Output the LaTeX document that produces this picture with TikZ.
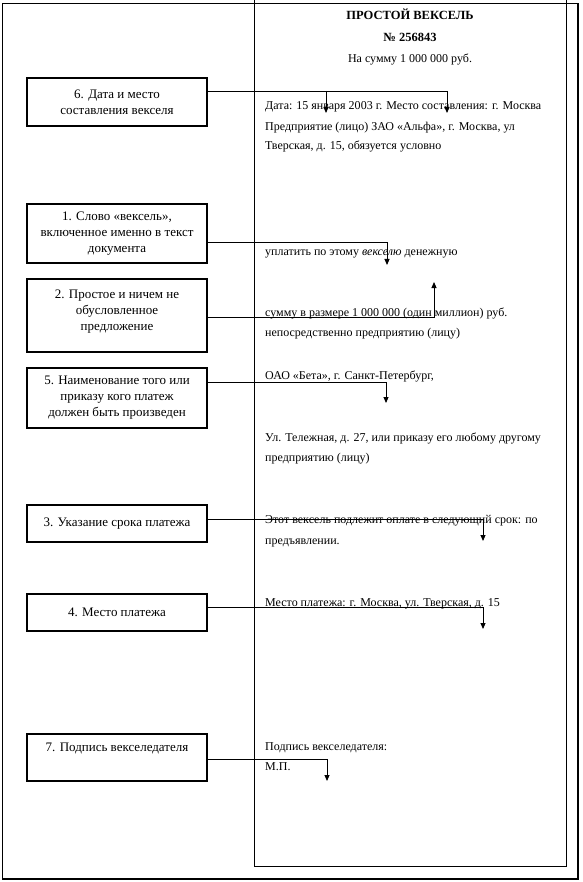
\documentclass[tikz,border=0pt]{standalone}
\usepackage{fontspec}
\setmainfont{Liberation Serif}
\usetikzlibrary{arrows.meta,positioning,calc}

\begin{document}
\begin{tikzpicture}[x=1pt, y=-1pt, >={Triangle[length=6pt,width=5pt]},
    part/.style={draw, line width=2pt, align=center, minimum width=180pt, inner sep=2pt, font=\fontsize{13}{16}\selectfont},
    txt/.style={anchor=base west, inner sep=0pt, font=\fontsize{12}{14}\selectfont},
    conn/.style={->, line width=0.9pt}]
    \useasboundingbox (0,0) rectangle (582,882);

    % Frames
    \draw[line width=1.2pt] (2.5,3.5) rectangle (578,879);
    \draw[line width=1pt] (254,0) -- (254,866.5) -- (566,866.5) -- (566,0);

    % Nodes
    \node[part, minimum height=48pt] (b6) at (117,102) {6. Дата и место\\составления векселя};
    \node[part, minimum height=59pt] (b1) at (117,233.5) {1. Слово «вексель»,\\включенное именно в текст\\документа};
    \node[part, minimum height=73pt] (b2) at (117,315.5) {2. Простое и ничем не\\обусловленное\\предложение\\[-6pt]\mbox{}};
    \node[part, minimum height=60pt] (b5) at (117,398) {5. Наименование того или\\приказу кого платеж\\должен быть произведен};
    \node[part, minimum height=37pt] (b3) at (117,523.5) {3. Указание срока платежа};
    \node[part, minimum height=37pt] (b4) at (117,612.5) {4. Место платежа};
    \node[part, minimum height=47pt] (b7) at (117,757.5) {7. Подпись векселедателя\\[4pt]\mbox{}};

    \node[anchor=base, inner sep=0pt, font=\fontsize{12.5}{14}\selectfont\bfseries] (title) at (410,20) {ПРОСТОЙ ВЕКСЕЛЬ};
    \node[anchor=base, inner sep=0pt, font=\fontsize{12.5}{14}\selectfont\bfseries] (num) at (410,42) {№ 256843};
    \node[anchor=base, inner sep=0pt, font=\fontsize{12}{14}\selectfont] (sum) at (410,63) {На сумму 1 000 000 руб.};
    \node[txt] (t1) at (265,110) {Дата: 15 января 2003 г. Место составления: г. Москва};
    \node[txt] (t2) at (265,131) {Предприятие (лицо) ЗАО «Альфа», г. Москва, ул};
    \node[txt] (t3) at (265,150) {Тверская, д. 15, обязуется условно};
    \node[txt] (t4) at (265,256) {уплатить по этому \textit{векселю} денежную};
    \node[txt] (t5) at (265,316) {сумму в размере 1 000 000 (один миллион) руб.};
    \node[txt] (t6) at (265,336) {непосредственно предприятию (лицу)};
    \node[txt] (t7) at (265,379) {ОАО «Бета», г. Санкт-Петербург,};
    \node[txt] (t8) at (265,441) {Ул. Тележная, д. 27, или приказу его любому другому};
    \node[txt] (t9) at (265,461) {предприятию (лицу)};
    \node[txt] (t10) at (265,523) {Этот вексель подлежит оплате в следующий срок: по};
    \node[txt] (t11) at (265,544) {предъявлении.};
    \node[txt] (t12) at (265,606) {Место платежа: г. Москва, ул. Тверская, д. 15};
    \node[txt] (t13) at (265,750) {Подпись векселедателя:};
    \node[txt] (t14) at (265,770) {М.П.};

    % Bends and tips
    \coordinate (k6a) at (326,91);
    \coordinate (k6b) at (447,91);
    \coordinate (a6a) at (326,113);
    \coordinate (a6b) at (447,113);
    \coordinate (k1) at (387,242);
    \coordinate (a1) at (387,265);
    \coordinate (k2) at (434,317);
    \coordinate (a2) at (434,282);
    \coordinate (k5) at (386,382);
    \coordinate (a5) at (386,403);
    \coordinate (k3) at (483,519);
    \coordinate (a3) at (483,541);
    \coordinate (k4) at (483,607);
    \coordinate (a4) at (483,629);
    \coordinate (k7) at (327,759);
    \coordinate (a7) at (327,781);

    % Arrows
    \draw[conn] (b6.east |- k6b) -| (a6b);
    \draw[conn] (k6a) -- (a6a);
    \draw[conn] (b1.east |- k1) -| (a1);
    \draw[conn] (b2.east |- k2) -| (a2);
    \draw[conn] (b5.east |- k5) -| (a5);
    \draw[conn] (b3.east |- k3) -| (a3);
    \draw[conn] (b4.east |- k4) -| (a4);
    \draw[conn] (b7.east |- k7) -| (a7);
\end{tikzpicture}
\end{document}
